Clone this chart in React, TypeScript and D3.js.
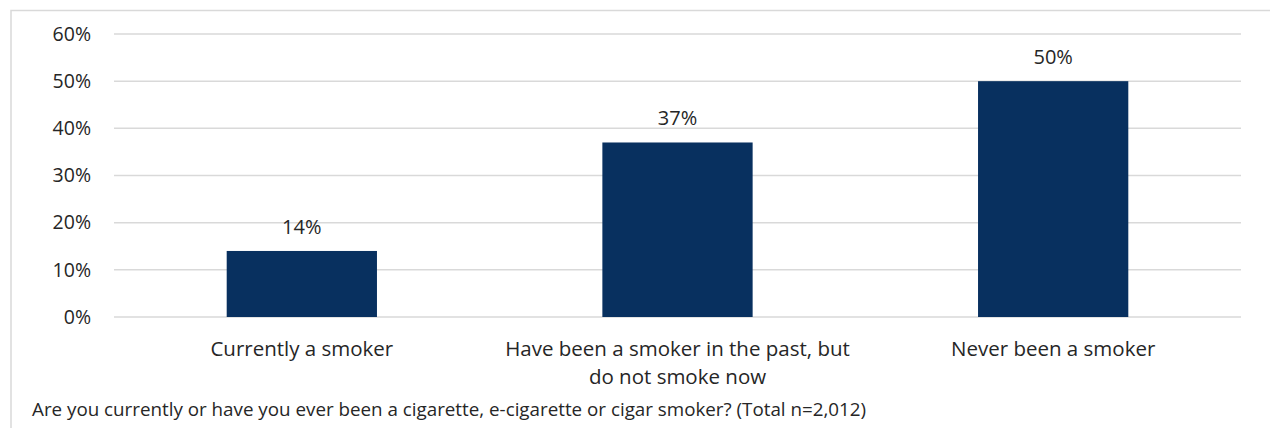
import React from "react";
import * as d3 from "d3";

const categories: string[][] = [
  ["Currently a smoker"],
  ["Have been a smoker in the past, but", "do not smoke now"],
  ["Never been a smoker"],
];
const values: number[] = [14, 37, 50];
const yTicks: number[] = [0, 10, 20, 30, 40, 50, 60];
const footer =
  "Are you currently or have you ever been a cigarette, e-cigarette or cigar smoker? (Total n=2,012)";

const W = 1270;
const H = 428;
const FONT = "'Open Sans', 'Noto Sans', sans-serif";
const TEXT = "#262626";

export default function App() {
  const x = d3
    .scaleBand<number>()
    .domain(d3.range(values.length))
    .range([114, 1241])
    .paddingInner(0.6)
    .paddingOuter(0.3);
  const y = d3.scaleLinear().domain([0, 60]).range([317, 34]);

  return (
    <svg
      width={W}
      height={H}
      style={{ position: "absolute", left: 0, top: 0, background: "#fff" }}
      fontFamily={FONT}
    >
      <rect x={11} y={10.5} width={W + 10} height={H + 10} fill="none" stroke="#d9d9d9" strokeWidth={1.5} />
      {yTicks.map((t) => (
        <g key={t}>
          <line x1={114} x2={1241} y1={y(t)} y2={y(t)} stroke="#d9d9d9" strokeWidth={1.5} />
          <text x={91} y={y(t)} dy="0.35em" textAnchor="end" fontSize={19.5} fill={TEXT}>
            {t}%
          </text>
        </g>
      ))}
      {values.map((v, i) => (
        <g key={i}>
          <rect
            x={x(i)!}
            y={y(v)}
            width={x.bandwidth()}
            height={y(0) - y(v)}
            fill="#08305f"
          />
          <text
            x={x(i)! + x.bandwidth() / 2}
            y={y(v) - 17}
            textAnchor="middle"
            fontSize={20}
            fill={TEXT}
          >
            {v}%
          </text>
          {categories[i].map((line, j) => (
            <text
              key={j}
              x={x(i)! + x.bandwidth() / 2}
              y={356 + j * 28}
              textAnchor="middle"
              fontSize={20.5}
              fill={TEXT}
            >
              {line}
            </text>
          ))}
        </g>
      ))}
      <text x={32} y={416} fontSize={18.8} fill={TEXT}>
        {footer}
      </text>
    </svg>
  );
}
